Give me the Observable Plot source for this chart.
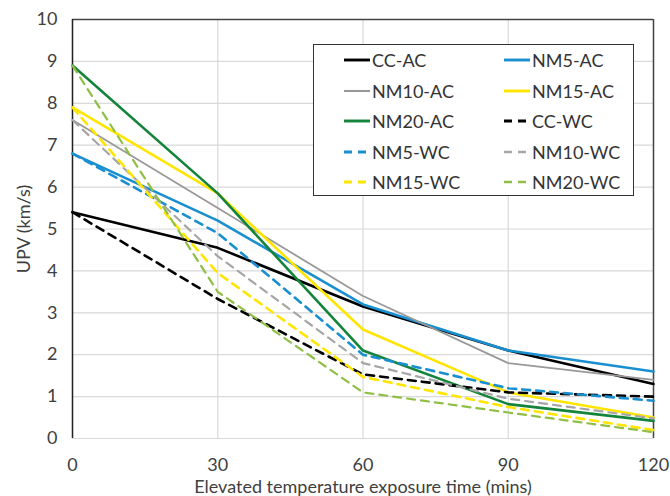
<!DOCTYPE html>
<html>
<head>
<meta charset="utf-8">
<script src="https://cdn.jsdelivr.net/npm/d3@7"></script>
<script src="https://cdn.jsdelivr.net/npm/@observablehq/plot@0.6"></script>
<style>
  html, body { margin: 0; padding: 0; background: #fff; }
  #wrap { position: relative; width: 670px; height: 496px; font-family: Lato, "Open Sans", sans-serif; }
  #legend { position: absolute; left: 313px; top: 44px; width: 321px; height: 152px; border: 1.5px solid #333; background: #fff; box-sizing: border-box; }
  .item { position: absolute; display: flex; align-items: center; font-size: 18px; color: #333; }
  .item svg { margin-right: 1px; }
</style>
</head>
<body>
<div id="wrap"></div>
<script>
const times = [0, 30, 60, 90, 120];
const seriesNames = ["CC-AC","NM5-AC","NM10-AC","NM15-AC","NM20-AC","CC-WC","NM5-WC","NM10-WC","NM15-WC","NM20-WC"];
const ccAC   = [5.4, 4.55, 3.15, 2.1, 1.3];
const nm5AC  = [6.8, 5.2, 3.2, 2.1, 1.6];
const nm10AC = [7.6, 5.5, 3.4, 1.8, 1.4];
const nm15AC = [7.9, 5.85, 2.6, 1.1, 0.5];
const nm20AC = [8.9, 5.85, 2.1, 0.82, 0.42];
const ccWC   = [5.4, 3.33, 1.53, 1.1, 1.0];
const nm5WC  = [6.8, 4.9, 2.0, 1.2, 0.9];
const nm10WC = [7.6, 4.35, 1.8, 0.95, 0.48];
const nm15WC = [7.9, 3.95, 1.47, 0.75, 0.2];
const nm20WC = [8.9, 3.5, 1.1, 0.62, 0.15];
const seriesValues = [ccAC, nm5AC, nm10AC, nm15AC, nm20AC, ccWC, nm5WC, nm10WC, nm15WC, nm20WC];
const colors = ["#000000","#1a8fd0","#999999","#ffe500","#13843a","#000000","#1a8fd0","#a6a6a6","#ffe500","#8fbf45"];
const dashed = [false,false,false,false,false,true,true,true,true,true];
const widths = [2.6,2.6,1.8,2.6,2.6,2.6,2.6,2.2,2.6,2.2];
const xTicks = [0, 30, 60, 90, 120];
const yTicks = [0,1,2,3,4,5,6,7,8,9,10];

const rows = [];
seriesNames.forEach((s, i) => times.forEach((t, j) => rows.push({series: s, t, v: seriesValues[i][j]})));

const lineMarks = seriesNames.map((s, i) => Plot.line(rows.filter(r => r.series === s), {
  x: "t", y: "v", stroke: colors[i], strokeWidth: widths[i],
  strokeDasharray: dashed[i] ? "8,6" : null, strokeLinejoin: "round"
}));

const chart = Plot.plot({
  width: 670, height: 496,
  marginLeft: 72, marginRight: 17, marginTop: 19, marginBottom: 58,
  style: {fontFamily: "Lato, 'Open Sans', sans-serif", fontSize: "18px", color: "#404040", background: "#fff"},
  x: {domain: [0, 120]},
  y: {domain: [0, 10]},
  marks: [
    Plot.gridX(xTicks, {stroke: "#d9d9d9", strokeOpacity: 1, strokeWidth: 1.2}),
    Plot.gridY(yTicks, {stroke: "#d9d9d9", strokeOpacity: 1, strokeWidth: 1.2}),
    Plot.ruleY([10], {stroke: "#444", strokeWidth: 1.5}),
    Plot.ruleX([120], {stroke: "#444", strokeWidth: 1.5}),
    Plot.ruleX([0], {stroke: "#222", strokeWidth: 1.5}),
    Plot.axisX({ticks: xTicks, tickSize: 0, tickPadding: 20, fontSize: 18, label: "Elevated temperature exposure time (mins)", labelAnchor: "center", labelOffset: 54, labelArrow: "none"}),
    Plot.axisY({ticks: yTicks, tickSize: 0, tickPadding: 15, fontSize: 18, label: "UPV (km/s)", labelAnchor: "center", labelOffset: 55, labelArrow: "none"}),
    ...lineMarks
  ]
});
const wrap = document.getElementById("wrap");
wrap.appendChild(chart);

// legend
const legend = document.createElement("div");
legend.id = "legend";
seriesNames.forEach((s, i) => {
  const col = i % 2, row = Math.floor(i / 2);
  const it = document.createElement("div");
  it.className = "item";
  it.style.left = (col === 0 ? 29 : 189) + "px";
  it.style.top = (3 + row * 30.5) + "px";
  it.style.height = "24px";
  it.innerHTML = `<svg width="28" height="10"><line x1="1" x2="27" y1="5" y2="5" stroke="${colors[i]}" stroke-width="${widths[i] + 0.3}" ${dashed[i] ? 'stroke-dasharray="8,6"' : ''}/></svg><span>${s}</span>`;
  legend.appendChild(it);
});
wrap.appendChild(legend);
</script>
</body>
</html>
